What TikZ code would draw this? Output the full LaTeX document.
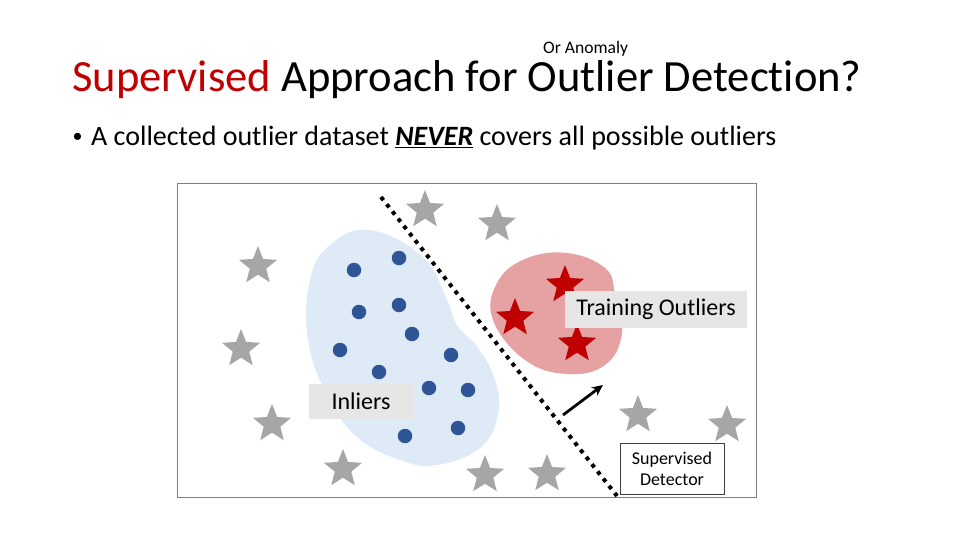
\documentclass[tikz,border=0pt]{standalone}
\usepackage{fontspec}
\setmainfont{Carlito}[RawFeature={-liga;-clig;-calt;-dlig}]
\usetikzlibrary{shapes.geometric,arrows.meta}
\definecolor{tred}{HTML}{C00000}
\definecolor{sgray}{HTML}{A6A6A6}
\definecolor{dblue}{HTML}{2F5597}
\definecolor{lblue}{HTML}{DEEBF7}
\definecolor{lred}{HTML}{E6A2A2}
\definecolor{lgray}{HTML}{E7E6E6}
\begin{document}
\begin{tikzpicture}[x=1pt,y=-1pt,
  gstar/.style={star,star points=5,star point ratio=2.3,fill=sgray,minimum size=40pt,inner sep=0pt},
  rstar/.style={gstar,fill=tred},
  bdot/.style={circle,fill=dblue,minimum size=14.5pt,inner sep=0pt},
  lbl/.style={fill=lgray,inner sep=0pt,font=\fontsize{24}{28}\selectfont},
  txt/.style={inner sep=0pt,anchor=base west}]
\useasboundingbox (0,0) rectangle (956,535);
\fill[white] (0,0) rectangle (956,535);
% title
\node[txt,font=\fontsize{44.6}{52}\selectfont] (title) at (72,92) {\textcolor{tred}{Supervised} Approach for Outlier Detection?};
\node[txt,font=\fontsize{17.6}{20}\selectfont] (anom) at (543,54) {Or Anomaly};
\node[inner sep=0pt,font=\fontsize{20}{22}\selectfont] (bul) at (77.5,137.7) {•};
\node[txt,font=\fontsize{28}{32}\selectfont] (bullet) at (91,145.5) {A collected outlier dataset \underline{\textbf{\textit{NEVER}}} covers all possible outliers};
% frame
\draw[gray,line width=1pt] (177,183) rectangle (756,497);
% blobs
\fill[lblue] plot[smooth cycle,tension=0.7] coordinates {(370,230) (423,257) (447,300) (457,325) (478,348) (495,380) (498,415) (480,448) (437,465) (400,460) (357,437) (327,395) (308,340) (310,280) (330,245)};
\fill[lred] plot[smooth cycle,tension=0.7] coordinates {(567,253) (605,268) (615,293) (622,333) (605,365) (567,374) (525,360) (493,320) (497,283) (525,259)};
% dotted separator
\coordinate (sepA) at (381,197);
\coordinate (sepB) at (617,496);
\draw[line width=4pt,dash pattern=on 4pt off 5.2pt] (sepA) -- (sepB);
% gray stars
\foreach \p [count=\i] in {(258,266),(241,349),(272,424),(343,469),(425,210),(497,224),(485,475),(547,474),(638,415),(727,425)}
  \node[gstar] (gs\i) at \p {};
% red stars
\node[rstar] (rs1) at (565,285) {};
\node[rstar] (rs2) at (515,318) {};
\node[rstar] (rs3) at (577,344) {};
% blue dots
\foreach \p [count=\i] in {(354,270),(399,258),(359,312),(399,305),(412,334),(340,350),(379,372),(451,355),(429,388),(468,390),(405,436),(458,428)}
  \node[bdot] (bd\i) at \p {};
% labels
\node[lbl,minimum width=104pt,minimum height=35pt] (inl) at (361,401.5) {Inliers};
\node[lbl,minimum width=182pt,minimum height=37pt] (tro) at (656,309) {Training Outliers};
\node[draw=black!75,line width=0.8pt,fill=white,minimum width=104pt,minimum height=51pt,inner sep=0pt,align=center,font=\fontsize{18}{21}\selectfont] (sd) at (672,468.5) {Supervised\\Detector};
% arrow
\coordinate (arS) at (563,415);
\coordinate (arE) at (603,385);
\draw[line width=2.8pt,-{Stealth[length=11pt,width=10pt]}] (arS) -- (arE);
\end{tikzpicture}
\end{document}
